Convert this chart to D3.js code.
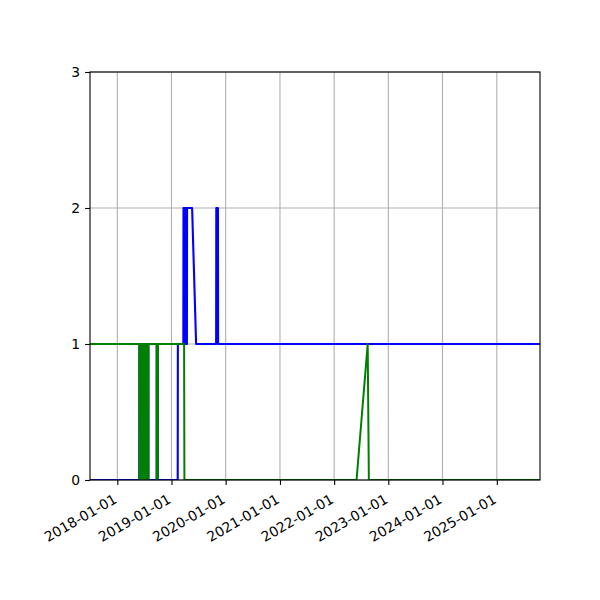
<!DOCTYPE html>
<html>
<head>
<meta charset="utf-8">
<script src="https://cdn.jsdelivr.net/npm/d3@7"></script>
<style>
  body { margin: 0; background: #fff; }
  text { font-family: "DejaVu Sans", sans-serif; font-size: 13.9px; fill: #000; }
</style>
</head>
<body>
<div id="chart"></div>
<script>
// blue series (drawn first)
const blueDates = [
    "2017-06-20", "2018-05-29", "2018-05-30", "2018-07-29", "2018-07-30",
    "2018-09-23", "2018-09-24", "2018-09-30", "2018-10-01",
    "2019-02-12", "2019-02-13",
    "2019-03-22", "2019-03-23", "2019-03-25", "2019-03-26", "2019-03-28", "2019-03-29",
    "2019-03-31", "2019-04-01", "2019-04-03", "2019-04-04", "2019-04-06", "2019-04-07",
    "2019-04-09", "2019-04-10", "2019-04-12", "2019-04-13", "2019-04-15", "2019-04-16", "2019-04-18",
    "2019-05-20", "2019-06-16",
    "2019-10-29", "2019-10-30", "2019-11-10", "2019-11-11",
    "2025-11-30"
];
const blueValues = [
    0, 0, 1, 1, 0,
    0, 1, 1, 0,
    0, 1,
    1, 2, 2, 1, 1, 2,
    2, 1, 1, 2, 2, 1,
    1, 2, 2, 1, 1, 2, 2,
    2, 1,
    1, 2, 2, 1,
    1
];

// green series (drawn on top)
const greenDates = [
    "2017-06-20", "2018-05-29", "2018-05-30", "2018-06-05", "2018-06-06", "2018-06-12", "2018-06-13",
    "2018-06-19", "2018-06-20", "2018-06-26", "2018-06-27", "2018-07-03", "2018-07-04",
    "2018-07-10", "2018-07-11", "2018-07-17", "2018-07-18", "2018-07-23", "2018-07-24",
    "2018-07-29", "2018-07-30",
    "2018-09-23", "2018-09-24", "2018-10-01", "2018-10-02",
    "2019-03-27", "2019-03-29",
    "2022-06-01", "2022-08-15", "2022-08-23",
    "2025-11-30"
];
const greenValues = [
    1, 1, 0, 0, 1, 1, 0,
    0, 1, 1, 0, 0, 1,
    1, 0, 0, 1, 1, 0,
    0, 1,
    1, 0, 0, 1,
    1, 0,
    0, 1, 0,
    0
];

const xDomain = ["2017-07-01", "2025-10-19"];
const yTicks = [0, 1, 2, 3];
const xTickYears = ["2018-01-01", "2019-01-01", "2020-01-01", "2021-01-01",
    "2022-01-01", "2023-01-01", "2024-01-01", "2025-01-01"];

const width = 600;
const height = 600;
const margin = { left: 90, right: 60, top: 72, bottom: 120 };

const parse = d3.timeParse("%Y-%m-%d");
const fmt = d3.timeFormat("%Y-%m-%d");

const svg = d3.select("#chart")
    .append("svg")
    .attr("width", width)
    .attr("height", height);

const x = d3.scaleTime()
    .domain(xDomain.map(parse))
    .range([margin.left, width - margin.right]);

const y = d3.scaleLinear()
    .domain([0, 3])
    .range([height - margin.bottom, margin.top]);

const xTicks = xTickYears.map(parse);

// grid
svg.append("g")
    .selectAll("line.vgrid")
    .data(xTicks)
    .enter().append("line")
    .attr("x1", d => x(d)).attr("x2", d => x(d))
    .attr("y1", y(0)).attr("y2", y(3))
    .attr("stroke", "#b0b0b0")
    .attr("stroke-width", 1.1);

svg.append("g")
    .selectAll("line.hgrid")
    .data(yTicks)
    .enter().append("line")
    .attr("x1", x.range()[0]).attr("x2", x.range()[1])
    .attr("y1", d => y(d)).attr("y2", d => y(d))
    .attr("stroke", "#b0b0b0")
    .attr("stroke-width", 1.1);

svg.append("clipPath")
    .attr("id", "plot-clip")
    .append("rect")
    .attr("x", x.range()[0])
    .attr("y", y(3))
    .attr("width", x.range()[1] - x.range()[0])
    .attr("height", y(0) - y(3));

const line = d3.line()
    .x(d => x(d[0]))
    .y(d => y(d[1]));

function drawSeries(dates, values, color, w) {
    const pts = dates.map((d, i) => [parse(d), values[i]]);
    svg.append("path")
        .datum(pts)
        .attr("clip-path", "url(#plot-clip)")
        .attr("fill", "none")
        .attr("stroke", color)
        .attr("stroke-width", w)
        .attr("stroke-linejoin", "round")
        .attr("d", line);
}

drawSeries(blueDates, blueValues, "#0000ff", 2.1);
drawSeries(greenDates, greenValues, "#008000", 2);

// axes
const xAxis = svg.append("g")
    .attr("transform", `translate(0,${y(0)})`)
    .call(d3.axisBottom(x).tickValues(xTicks).tickFormat(fmt).tickSize(4.9).tickPadding(4.9));

xAxis.selectAll("text")
    .attr("text-anchor", "end")
    .attr("dy", null)
    .attr("y", 0)
    .attr("transform", "translate(0,22) rotate(-30)");

const yAxis = svg.append("g")
    .attr("transform", `translate(${x.range()[0]},0)`)
    .call(d3.axisLeft(y).tickValues(yTicks).tickFormat(d3.format("d")).tickSize(4.9).tickPadding(4.9));

[xAxis, yAxis].forEach(g => {
    g.select(".domain").remove();
    g.selectAll(".tick line").attr("stroke", "#000").attr("stroke-width", 1.1);
    g.selectAll("text").style("font-family", "'DejaVu Sans', sans-serif").style("font-size", "13.9px");
});

// frame
svg.append("rect")
    .attr("x", x.range()[0])
    .attr("y", y(3))
    .attr("width", x.range()[1] - x.range()[0])
    .attr("height", y(0) - y(3))
    .attr("fill", "none")
    .attr("stroke", "#000")
    .attr("stroke-width", 1.1);
</script>
</body>
</html>
